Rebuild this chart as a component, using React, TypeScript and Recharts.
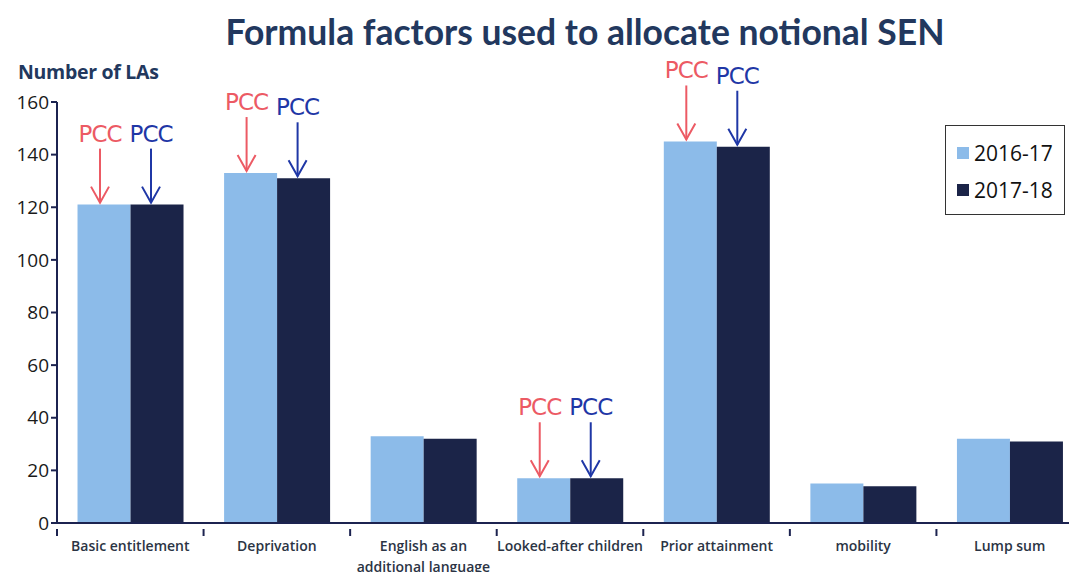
import React from "react";
import { BarChart, Bar, XAxis, YAxis, Legend, LabelList } from "recharts";

const categories = [
  "Basic entitlement",
  "Deprivation",
  "English as an additional language",
  "Looked-after children",
  "Prior attainment",
  "mobility",
  "Lump sum",
];
const values2016 = [121, 133, 33, 17, 145, 15, 32];
const values2017 = [121, 131, 32, 17, 143, 14, 31];
const yTicks = [0, 20, 40, 60, 80, 100, 120, 140, 160];
const pccMarked = ["Basic entitlement", "Deprivation", "Looked-after children", "Prior attainment"];
const seriesNames = ["2016-17", "2017-18"];

const data = categories.map((c, i) => ({
  name: c,
  a: values2016[i],
  b: values2017[i],
  pcc: pccMarked.includes(c) ? "PCC" : "",
}));

const LIGHT = "#8CBBE9";
const DARK = "#1B2448";
const AXIS = "#1c2350";
const TITLE = "#22385e";

const CHART_W = 1083;
const LEFT = 57;
const PLOT_W = CHART_W - LEFT;
const HALF_BAND = PLOT_W / categories.length / 2;

function wrap(text: string, max: number): string[] {
  const words = text.split(" ");
  const lines: string[] = [];
  let cur = "";
  for (const w of words) {
    const t = cur ? cur + " " + w : w;
    if (t.length > max && cur) {
      lines.push(cur);
      cur = w;
    } else cur = t;
  }
  if (cur) lines.push(cur);
  return lines;
}

const XTick = (props: any) => {
  const { x, y, payload, index } = props;
  const lines = wrap(String(payload.value), 21);
  return (
    <g>
      <line x1={x - HALF_BAND} x2={x - HALF_BAND} y1={y - 2} y2={y + 5} stroke={AXIS} strokeWidth={2} />
      {index === categories.length - 1 && (
        <line x1={x + HALF_BAND} x2={x + HALF_BAND} y1={y - 2} y2={y + 5} stroke={AXIS} strokeWidth={2} />
      )}
      <text
        x={x}
        y={y + 20}
        textAnchor="middle"
        fontFamily="Open Sans"
        fontWeight={600}
        fontSize={14}
        fill="#2b3444"
      >
        {lines.map((l, i) => (
          <tspan key={i} x={x} dy={i === 0 ? 0 : 21}>
            {l}
          </tspan>
        ))}
      </text>
    </g>
  );
};

const makePcc = (color: string, dx: number) => (props: any) => {
  const vb = props.viewBox || {};
  const x = props.x ?? vb.x;
  const y = props.y ?? vb.y;
  const width = props.width ?? vb.width;
  if (props.value !== "PCC") return null;
  const cx = x + width / 2 + dx;
  const top = y - 56;
  const tip = y - 2;
  return (
    <g>
      <line x1={cx} x2={cx} y1={top} y2={tip} stroke={color} strokeWidth={2} />
      <polyline
        points={`${cx - 9},${tip - 16} ${cx},${tip} ${cx + 9},${tip - 16}`}
        fill="none"
        stroke={color}
        strokeWidth={2}
      />
      <text
        x={cx}
        y={top - 7}
        textAnchor="middle"
        fontFamily="DejaVu Sans"
        fontSize={23}
        fill={color}
        letterSpacing={-1}
      >
        PCC
      </text>
    </g>
  );
};

const LegendBox = (props: any) => {
  const payload = props.payload || [];
  return (
    <div
      style={{
        border: "1.5px solid #333",
        width: 120,
        height: 90,
        boxSizing: "border-box",
        padding: "8px 0 0 11px",
        background: "#fff",
      }}
    >
      {payload.map((p: any, i: number) => (
        <div key={i} style={{ display: "flex", alignItems: "center", height: 37 }}>
          <span style={{ width: 12, height: 12, background: p.color, display: "inline-block", marginRight: 5 }} />
          <span style={{ fontFamily: "Open Sans", fontSize: 21, color: "#111" }}>{p.value}</span>
        </div>
      ))}
    </div>
  );
};

export default function App() {
  return (
    <div
      style={{
        margin: -8,
        width: 1077,
        height: 580,
        overflow: "hidden",
        position: "relative",
        background: "#fff",
      }}
    >
      <div
        style={{
          position: "absolute",
          left: 0,
          width: 1170,
          top: 10,
          textAlign: "center",
          fontFamily: "Lato",
          fontWeight: 700,
          fontSize: 35.5,
          color: TITLE,
          whiteSpace: "nowrap",
        }}
      >
        Formula factors used to allocate notional SEN
      </div>
      <div
        style={{
          position: "absolute",
          left: 18,
          top: 58,
          fontFamily: "Open Sans",
          fontWeight: 700,
          fontSize: 19.5,
          color: TITLE,
          letterSpacing: -0.3,
        }}
      >
        Number of LAs
      </div>
      <BarChart
        width={CHART_W}
        height={580}
        data={data}
        margin={{ top: 102, right: 0, bottom: 0, left: 0 }}
        barGap={0}
        barCategoryGap="14%"
      >
        <XAxis
          dataKey="name"
          interval={0}
          height={57}
          axisLine={{ stroke: AXIS, strokeWidth: 2 }}
          tickLine={false}
          tick={<XTick />}
        />
        <YAxis
          width={LEFT}
          domain={[0, 160]}
          ticks={yTicks}
          interval={0}
          axisLine={{ stroke: AXIS, strokeWidth: 2 }}
          tickLine={{ stroke: AXIS, strokeWidth: 2 }}
          tickSize={6}
          tickMargin={2}
          tick={{ fontFamily: "Open Sans", fontSize: 19, fill: "#1a1a1a" }}
        />
        <Legend
          layout="vertical"
          align="center"
          verticalAlign="middle"
          wrapperStyle={{ left: 945, top: 125, width: 120, height: 90 }}
          content={<LegendBox />}
        />
        <Bar dataKey="a" name={seriesNames[0]} fill={LIGHT} isAnimationActive={false}>
          <LabelList dataKey="pcc" content={makePcc("#ec5a64", -4)} />
        </Bar>
        <Bar dataKey="b" name={seriesNames[1]} fill={DARK} isAnimationActive={false}>
          <LabelList dataKey="pcc" content={makePcc("#1f37a6", -6)} />
        </Bar>
      </BarChart>
    </div>
  );
}
